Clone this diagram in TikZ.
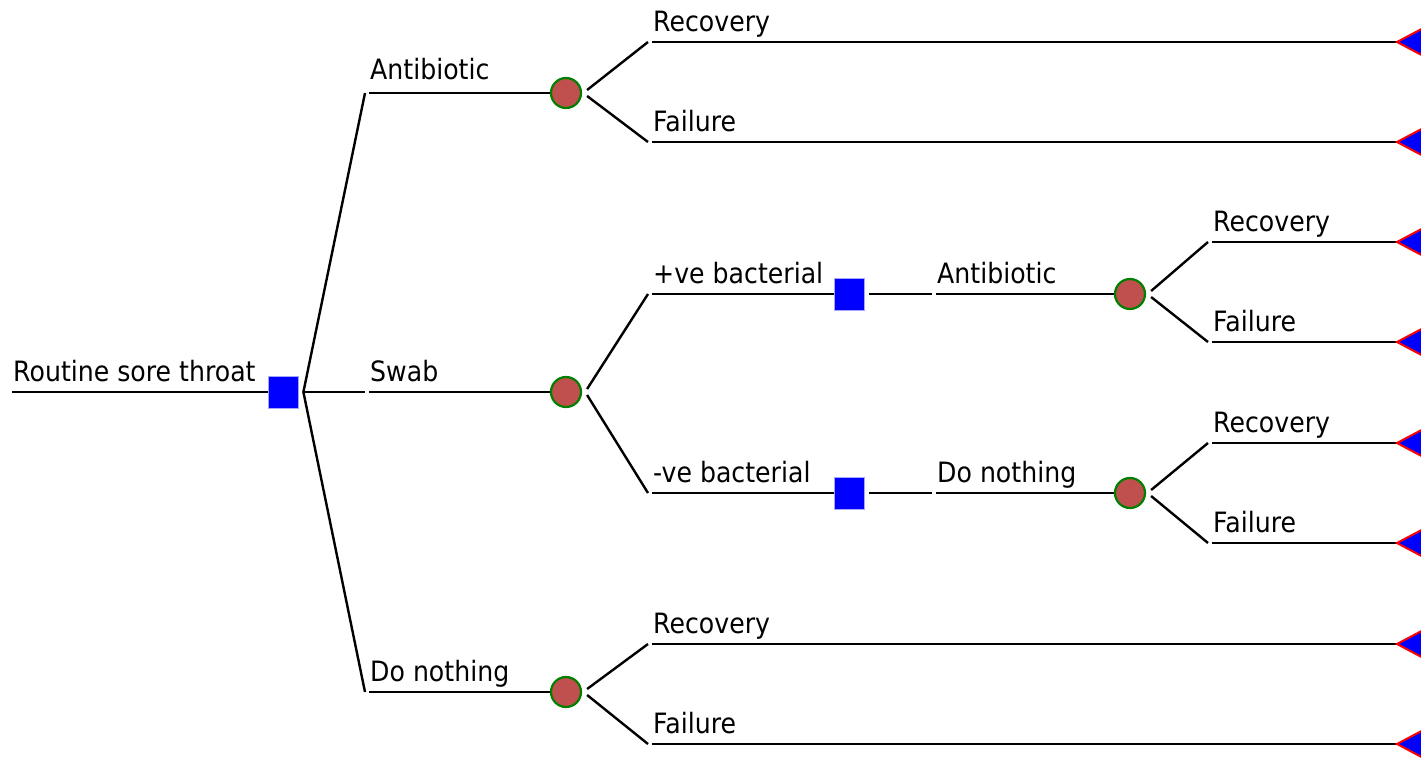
\documentclass[tikz,border=0pt]{standalone}
\usepackage{fontspec}
\setmainfont{DejaVu Sans}[FakeStretch=0.9]
\usetikzlibrary{positioning,calc}
\definecolor{chancered}{RGB}{192,80,77}
\definecolor{chancegreen}{RGB}{0,128,0}

\begin{document}
\begin{tikzpicture}[x=0.5pt, y=-0.5pt, font=\fontsize{14}{16}\selectfont,
    line width=1.2pt,
    dec/.style={rectangle, fill=blue, draw=blue!35, line width=0.4pt, minimum width=15pt, minimum height=16pt, inner sep=0pt},
    chance/.style={circle, fill=chancered, draw=chancegreen, line width=1.1pt, minimum size=15pt, inner sep=0pt},
    term/.style={fill=blue, draw=red, line width=1pt, line join=miter},
    lbl/.style={pos=0, anchor=base west, yshift=5.5pt, inner sep=0pt}]
      \useasboundingbox (0,0) rectangle (1421,761);
      %nodes
      \coordinate (r0) at (12,392);
      \node[dec] (d0) at (283,392) {};
      \coordinate (bA) at (369,93);
      \coordinate (bS) at (369,392);
      \coordinate (bN) at (369,692);
      \node[chance] (cA) at (566,93) {};
      \node[chance] (cS) at (566,392) {};
      \node[chance] (cN) at (566,692) {};
      \coordinate (oA1) at (652,42);
      \coordinate (oA2) at (652,142);
      \coordinate (bP) at (652,294);
      \coordinate (bM) at (652,493);
      \coordinate (oN1) at (652,644);
      \coordinate (oN2) at (652,744);
      \node[dec] (dP) at (849,294) {};
      \node[dec] (dM) at (849,493) {};
      \coordinate (bPA) at (936,294);
      \coordinate (bMN) at (936,493);
      \node[chance] (cP) at (1130,294) {};
      \node[chance] (cM) at (1130,493) {};
      \coordinate (oP1) at (1212,242);
      \coordinate (oP2) at (1212,342);
      \coordinate (oM1) at (1212,443);
      \coordinate (oM2) at (1212,543);
      \foreach \t/\y in {tA1/42, tA2/142, tP1/242, tP2/342, tM1/443, tM2/543, tN1/644, tN2/744}
        \coordinate (\t) at (1397,\y);
      %edges
      \draw (r0) -- node[lbl]{Routine sore throat} (d0);
      \draw ([xshift=2.5pt]d0.east) -- ([xshift=-2pt]bA);
      \draw ([xshift=2.5pt]d0.east) -- ([xshift=-2pt]bS);
      \draw ([xshift=2.5pt]d0.east) -- ([xshift=-2pt]bN);
      \draw (bA) -- node[lbl, yshift=1.5pt]{Antibiotic} (cA);
      \draw (bS) -- node[lbl]{Swab} (cS);
      \draw (bN) -- node[lbl]{Do nothing} (cN);
      % antibiotic
      \draw ([xshift=2.5pt,yshift=1.5pt]cA.east) -- ([xshift=-2pt]oA1);
      \draw ([xshift=2.5pt,yshift=-1.5pt]cA.east) -- ([xshift=-2pt]oA2);
      \draw (oA1) -- node[lbl]{Recovery} (tA1);
      \draw (oA2) -- node[lbl]{Failure} (tA2);
      % swab
      \draw ([xshift=2.5pt,yshift=1.5pt]cS.east) -- ([xshift=-2pt]bP);
      \draw ([xshift=2.5pt,yshift=-1.5pt]cS.east) -- ([xshift=-2pt]bM);
      \draw (bP) -- node[lbl]{+ve bacterial} (dP);
      \draw (bM) -- node[lbl]{-ve bacterial} (dM);
      \draw ([xshift=2.5pt]dP.east) -- ([xshift=-2pt]bPA);
      \draw ([xshift=2.5pt]dM.east) -- ([xshift=-2pt]bMN);
      \draw (bPA) -- node[lbl]{Antibiotic} (cP);
      \draw (bMN) -- node[lbl]{Do nothing} (cM);
      \draw ([xshift=2.5pt,yshift=1.5pt]cP.east) -- ([xshift=-2pt]oP1);
      \draw ([xshift=2.5pt,yshift=-1.5pt]cP.east) -- ([xshift=-2pt]oP2);
      \draw ([xshift=2.5pt,yshift=1.5pt]cM.east) -- ([xshift=-2pt]oM1);
      \draw ([xshift=2.5pt,yshift=-1.5pt]cM.east) -- ([xshift=-2pt]oM2);
      \draw (oP1) -- node[lbl]{Recovery} (tP1);
      \draw (oP2) -- node[lbl]{Failure} (tP2);
      \draw (oM1) -- node[lbl]{Recovery} (tM1);
      \draw (oM2) -- node[lbl]{Failure} (tM2);
      % do nothing
      \draw ([xshift=2.5pt,yshift=1.5pt]cN.east) -- ([xshift=-2pt]oN1);
      \draw ([xshift=2.5pt,yshift=-1.5pt]cN.east) -- ([xshift=-2pt]oN2);
      \draw (oN1) -- node[lbl]{Recovery} (tN1);
      \draw (oN2) -- node[lbl]{Failure} (tN2);
      % terminals
      \foreach \t in {tA1, tA2, tP1, tP2, tM1, tM2, tN1, tN2}
        \draw[term] (\t) -- ++(32,-17) -- ++(0,34) -- cycle;
    \end{tikzpicture}
\end{document}
